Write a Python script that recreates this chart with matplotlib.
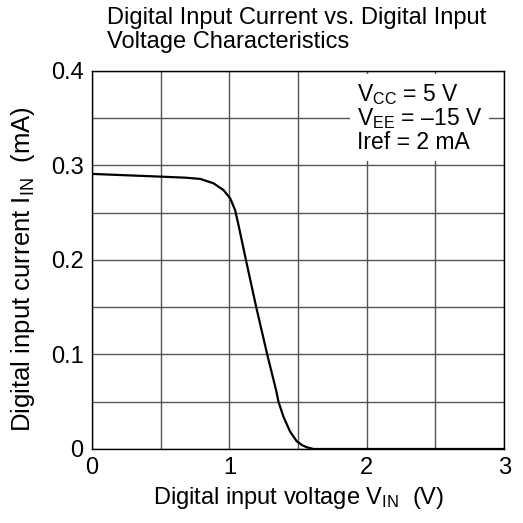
import matplotlib
matplotlib.use('Agg')
import matplotlib.pyplot as plt
import numpy as np

plt.rcParams['font.family'] = ['Liberation Sans', 'DejaVu Sans']
plt.rcParams['mathtext.fontset'] = 'custom'
plt.rcParams['mathtext.rm'] = 'Liberation Sans'
plt.rcParams['mathtext.it'] = 'Liberation Sans:italic'

# digital input voltage (V) vs digital input current (mA)
v_in = np.array([0, 0.5, 0.68, 0.787, 0.884, 0.956, 1.005, 1.041, 1.066, 1.12, 1.195,
                 1.275, 1.34, 1.357, 1.393, 1.442, 1.49, 1.53, 1.564, 1.612, 2.0, 3.0])
i_in = np.array([0.2908, 0.2879, 0.2868, 0.2855, 0.2809, 0.2738, 0.2651, 0.2527, 0.2368, 0.20, 0.15,
                 0.10, 0.062, 0.050, 0.0342, 0.0183, 0.0082, 0.0040, 0.0018, 0.0, 0.0, 0.0])

x_tick_labels = ['0', '', '1', '', '2', '', '3']
y_tick_labels = ['0', '', '0.1', '', '0.2', '', '0.3', '', '0.4']

fig = plt.figure(figsize=(5.23, 5.23), dpi=100)
ax = fig.add_axes([0.176, 0.1415, 0.788, 0.7235])

ax.set_xlim(0, 3)
ax.set_ylim(0, 0.4)
ax.set_xticks(np.arange(0, 3.01, 0.5))
ax.set_yticks(np.arange(0, 0.401, 0.05))
ax.set_xticklabels(x_tick_labels)
ax.set_yticklabels(y_tick_labels)
ax.tick_params(length=0, labelsize=17, pad=6)
ax.grid(True, color='#555555', linewidth=1)
ax.set_axisbelow(True)
for s in ax.spines.values():
    s.set_linewidth(1)
    s.set_color('black')

ax.plot(v_in, i_in, color='black', linewidth=1.6, zorder=3)

ax.set_xlabel(r'Digital input voltage V$_{\mathrm{IN}}$  (V)', fontsize=17, labelpad=4)
ax.set_ylabel(r'Digital input current I$_{\mathrm{IN}}$  (mA)', fontsize=18.5)
ax.yaxis.set_label_coords(-0.1335, 0.476)

fig.text(0.205, 0.986, 'Digital Input Current vs. Digital Input\nVoltage Characteristics',
         fontsize=17, ha='left', va='top', linespacing=1.08)

ax.text(1.93, 0.388, 'V$_{\\mathrm{CC}}$ = 5 V\nV$_{\\mathrm{EE}}$ = \u201315 V\nIref = 2 mA',
        fontsize=16.5, ha='left', va='top', linespacing=0.98, zorder=5,
        bbox=dict(boxstyle='square,pad=0.3', facecolor='white', edgecolor='none'))

fig.savefig('out.png', dpi=100)
